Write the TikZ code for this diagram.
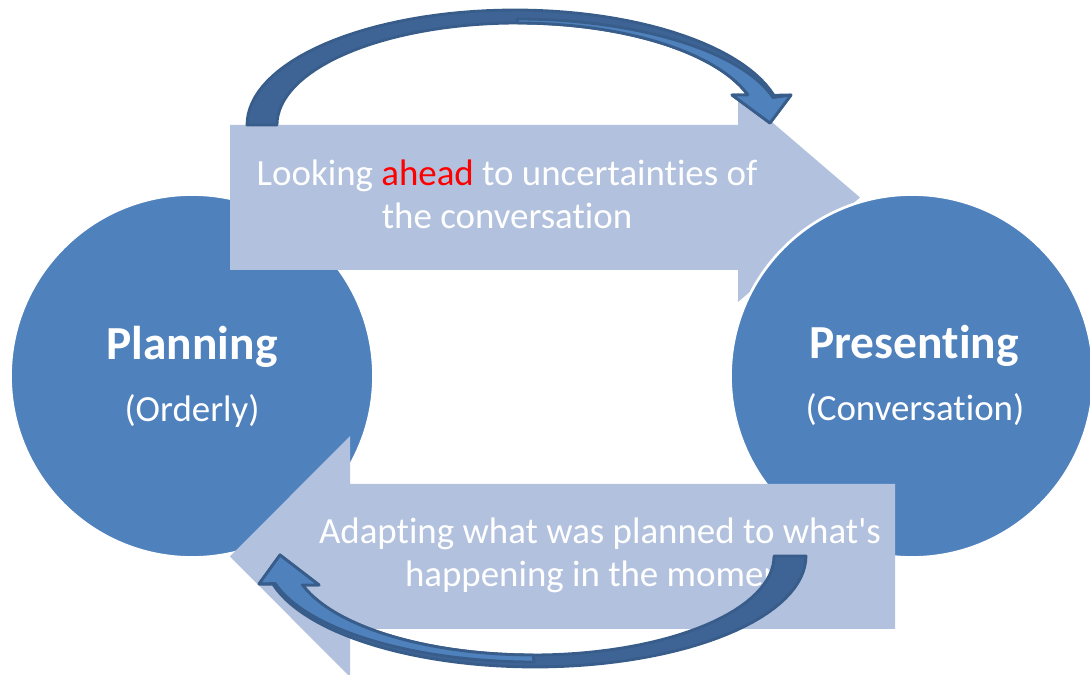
\documentclass[tikz,border=0pt]{standalone}
\usepackage{fontspec}
\setmainfont{Carlito}[Ligatures={NoCommon,NoContextual}]
\definecolor{hubblue}{HTML}{4F81BD}
\definecolor{flowblue}{HTML}{B2C1DD}
\definecolor{loopshade}{HTML}{3E6496}
\definecolor{loopface}{HTML}{4F81BD}
\definecolor{loopline}{HTML}{385D8A}
\begin{document}
\begin{tikzpicture}[x=0.02cm,y=-0.02cm,
  hub/.style={circle, fill=hubblue, draw=white, line width=1.5pt, minimum size=7.26cm, inner sep=0pt},
  flow/.style={fill=flowblue},
  loopback/.style={fill=loopshade, draw=loopline, line width=1.6pt, line join=round},
  loopfront/.style={fill=loopface, draw=loopline, line width=1.6pt, line join=round},
  flowtext/.style={text=white, font=\fontsize{21}{24.5}\selectfont, align=center, inner sep=0pt},
  hubtitle/.style={text=white, font=\bfseries\fontsize{27}{32}\selectfont, inner sep=0pt},
  hubsub/.style={text=white, font=\fontsize{21}{24}\selectfont, inner sep=0pt}]
\useasboundingbox (0,0) rectangle (1090,675);

% left circle sits underneath both block arrows
\node[hub] (plan) at (192,376) {};

% upper block arrow: planning -> presenting
\fill[flow] (230,125) -- (738,125) -- (738,93) -- (860,197.5) -- (738,302)
  -- (738,270) -- (230,270) -- cycle;

% right circle covers the head of the upper arrow
\node[hub] (pres) at (912,376) {};

% lower block arrow: presenting -> planning
\fill[flow] (895,484) -- (350,484) -- (350,436) -- (230,556.5) -- (350,677)
  -- (350,629) -- (895,629) -- cycle;

% texts (multi-line nodes are anchored on the baseline of their last line)
\node[hubtitle, anchor=base] (plantitle) at (192,360) {Planning};
\node[hubsub, anchor=base] (plansub) at (192,422) {(Orderly)};
\node[hubtitle, anchor=base] (prestitle) at (914,359) {Presenting};
\node[hubsub, anchor=base] (pressub) at (915,421) {(Conversation)};
\node[flowtext, anchor=base] (aheadtext) at (507,229)
  {Looking \textcolor{red}{ahead} to uncertainties of\\the conversation};
\node[flowtext, anchor=base] (adapttext) at (600,587)
  {Adapting what was planned to what\textquotesingle s\\happening in the moment};

% curved arrow over the top
\path[loopback] plot[domain=180:345,samples=60] ({515+268*cos(\x)},{125+115*sin(\x)})
  -- (791,95) -- (770,123) -- (732,95) -- (748,95)
  -- plot[domain=342.9:180,samples=60] ({517.8+240.8*cos(\x)},{125+102*sin(\x)}) -- cycle;
\path[loopfront] plot[domain=270:345,samples=40] ({517+265*cos(\x)},{125+106*sin(\x)})
  -- (791,95) -- (770,123) -- (732,95) -- (748,95)
  -- plot[domain=342.9:270,samples=40] ({517.8+240.8*cos(\x)},{125+102*sin(\x)}) -- cycle;

% curved arrow underneath
\path[loopback] plot[domain=0:165.2,samples=60] ({535+271*cos(\x)},{556+111*sin(\x)})
  -- (259,584) -- (280,555) -- (319,585) -- (302,585)
  -- plot[domain=163:0,samples=60] ({533+241*cos(\x)},{556+99*sin(\x)}) -- cycle;
\path[loopfront] plot[domain=90:165,samples=40] ({534+268*cos(\x)},{556+106*sin(\x)})
  -- (259,584) -- (280,555) -- (319,585) -- (302,585)
  -- plot[domain=163:90,samples=40] ({533+241*cos(\x)},{556+99*sin(\x)}) -- cycle;
\end{tikzpicture}
\end{document}
